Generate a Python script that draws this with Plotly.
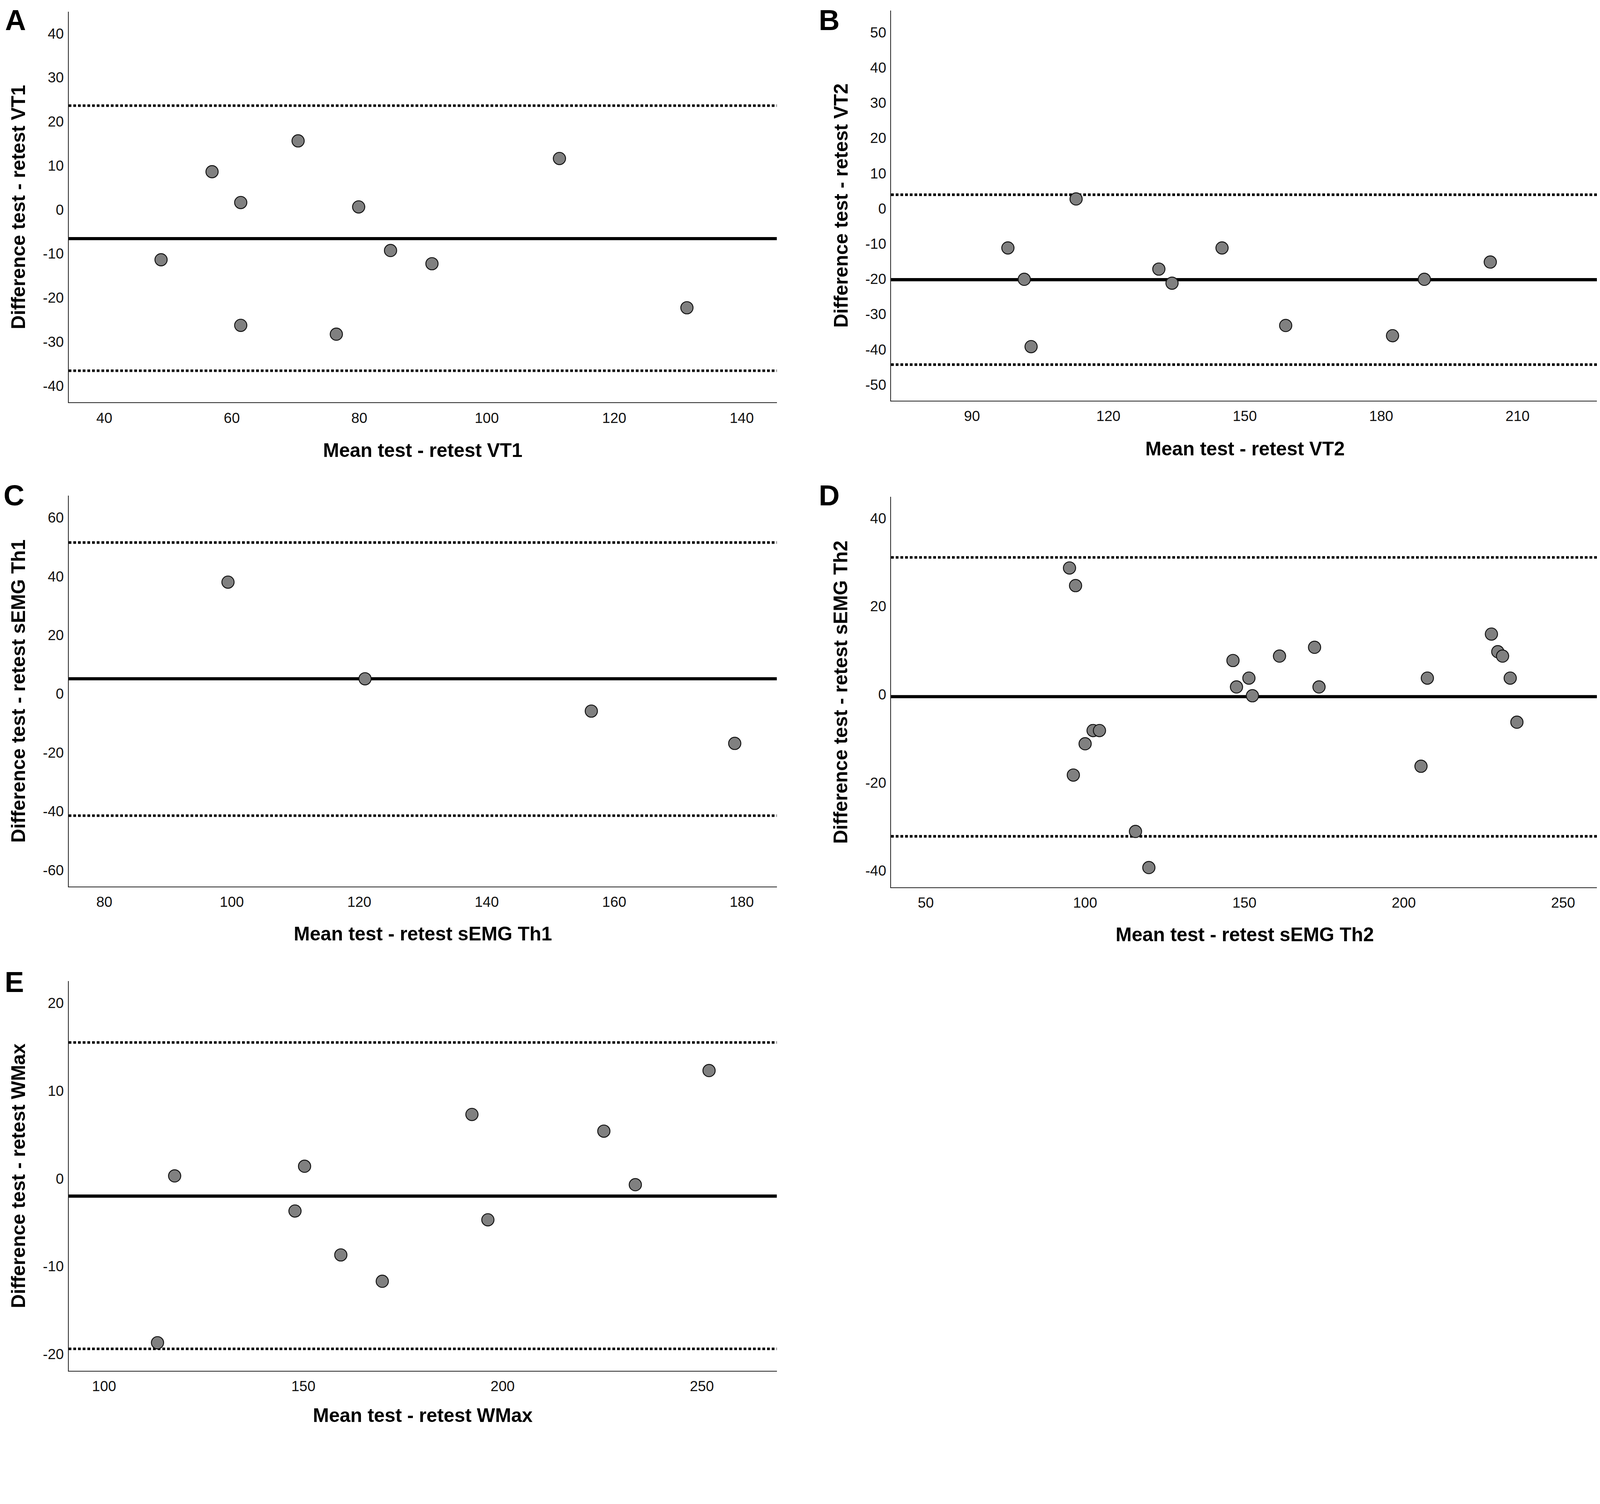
import plotly.graph_objects as go

# the page is photographed a bit larger than its css size, so lay out in
# target pixels and convert
K = 1.053
OFF = 8
W = round(4317 / K - OFF)
H = round(3851 / K - OFF)


def fx(px):
    return (px / K - OFF) / W


def fy(py):
    return 1 - (py / K - OFF) / H


def s(v):
    return v / K


# panel A - VT1
a_mean = [48.9, 56.9, 61.4, 61.4, 70.4, 76.4, 79.9, 84.9, 91.4, 111.4, 131.4]
a_diff = [-11.4, 8.6, 1.6, -26.3, 15.6, -28.3, 0.6, -9.3, -12.3, 11.6, -22.3]
a_bias = -6.6
a_loa = [23.6, -36.6]
a_xticks = [40, 60, 80, 100, 120, 140]
a_yticks = [-40, -30, -20, -10, 0, 10, 20, 30, 40]

# panel B - VT2
b_mean = [97.9, 101.5, 103.0, 112.9, 131.1, 134.0, 145.0, 159.0, 182.5, 189.5, 204.0]
b_diff = [-11.2, -20.1, -39.2, 2.7, -17.2, -21.2, -11.2, -33.2, -36.1, -20.1, -15.2]
b_bias = -20.2
b_loa = [3.9, -44.3]
b_xticks = [90, 120, 150, 180, 210]
b_yticks = [-50, -40, -30, -20, -10, 0, 10, 20, 30, 40, 50]

# panel C - sEMG Th1
c_mean = [99.4, 120.9, 156.4, 178.9]
c_diff = [38.0, 5.1, -5.9, -16.9]
c_bias = 5.1
c_loa = [51.5, -41.5]
c_xticks = [80, 100, 120, 140, 160, 180]
c_yticks = [-60, -40, -20, 0, 20, 40, 60]

# panel D - sEMG Th2
d_mean = [95.1, 97.0, 96.3, 100.0, 102.5, 104.5, 115.8, 120.0, 146.4, 147.5, 151.4,
          152.5, 161.0, 172.0, 173.4, 205.4, 207.4, 227.5, 229.5, 231.0, 233.4, 235.5]
d_diff = [28.7, 24.7, -18.3, -11.2, -8.2, -8.2, -31.1, -39.3, 7.7, 1.7, 3.7,
          -0.3, 8.7, 10.7, 1.7, -16.3, 3.7, 13.7, 9.7, 8.7, 3.7, -6.3]
d_bias = -0.5
d_loa = [31.1, -32.2]
d_xticks = [50, 100, 150, 200, 250]
d_yticks = [-40, -20, 0, 20, 40]

# panel E - WMax
e_mean = [113.4, 117.7, 147.9, 150.3, 159.4, 169.8, 192.3, 196.3, 225.4, 233.3, 251.8]
e_diff = [-18.7, 0.3, -3.7, 1.4, -8.7, -11.7, 7.3, -4.7, 5.4, -0.7, 12.3]
e_bias = -2.0
e_loa = [15.5, -19.4]
e_xticks = [100, 150, 200, 250]
e_yticks = [-20, -10, 0, 10, 20]

labels = ["A", "B", "C", "D", "E"]
names = ["VT1", "VT2", "sEMG Th1", "sEMG Th2", "WMax"]

panels = [(a_mean, a_diff, a_bias, a_loa, a_xticks, a_yticks),
          (b_mean, b_diff, b_bias, b_loa, b_xticks, b_yticks),
          (c_mean, c_diff, c_bias, c_loa, c_xticks, c_yticks),
          (d_mean, d_diff, d_bias, d_loa, d_xticks, d_yticks),
          (e_mean, e_diff, e_bias, e_loa, e_xticks, e_yticks)]

# plot areas in target pixels (left, right, top, bottom)
boxes = [(185, 2094, 32, 1085), (2402, 4309, 28, 1080),
         (185, 2094, 1336, 2390), (2402, 4309, 1339, 2392),
         (185, 2094, 2645, 3696)]
xranges = [[34.4, 145.5], [72.2, 227.8], [74.4, 185.5], [39.1, 261.1], [91.1, 268.8]]
yranges = [[-43.8, 44.9], [-54.5, 56.2], [-65.6, 67.5], [-43.75, 44.9], [-21.9, 22.5]]
letter_pos = [(42, 54), (2235, 54), (38, 1336), (2235, 1336), (38, 2648)]
xtitle_shift = [129, 129, 127, 127, 120]

arial = "Liberation Sans, Arial, sans-serif"
tick_font = dict(family=arial, size=s(39), color="#111")
title_font = dict(family=arial, size=s(52), color="black", weight="bold")

fig = go.Figure()
for i, (xs, ys, bias, loa, xt, yt) in enumerate(panels):
    n = "" if i == 0 else str(i + 1)
    xa, ya = "x" + n, "y" + n
    l, r, t, b = boxes[i]
    fig.add_trace(go.Scatter(
        x=xs, y=ys, mode="markers", xaxis=xa, yaxis=ya, showlegend=False,
        marker=dict(size=s(33), color="#808080", line=dict(color="#111", width=s(2.5))),
        cliponaxis=False))
    # mean difference
    fig.add_shape(type="line", xref=xa + " domain", yref=ya, x0=0, x1=1, y0=bias, y1=bias,
                  line=dict(color="black", width=s(8.5)), layer="below")
    # limits of agreement
    for v in loa:
        fig.add_shape(type="line", xref=xa + " domain", yref=ya, x0=0, x1=1, y0=v, y1=v,
                      line=dict(color="black", width=s(7), dash="7px,5px"), layer="below")
    fig.update_layout(**{
        "xaxis" + n: dict(domain=[fx(l), fx(r)], range=xranges[i], anchor=ya,
                          tickvals=xt, ticktext=[str(v) for v in xt],
                          showline=True, linecolor="#222", linewidth=s(2), ticks="",
                          showgrid=False, zeroline=False, tickfont=tick_font,
                          ticklabelstandoff=6),
        "yaxis" + n: dict(domain=[fy(b), fy(t)], range=yranges[i], anchor=xa,
                          tickvals=yt, ticktext=[str(v) for v in yt],
                          showline=True, linecolor="#222", linewidth=s(2), ticks="",
                          showgrid=False, zeroline=False, tickfont=tick_font,
                          ticklabelstandoff=3),
    })
    fig.add_annotation(text="Mean test - retest " + names[i], xref=xa + " domain",
                       yref=ya + " domain", x=0.5, y=0, yanchor="middle",
                       yshift=-s(xtitle_shift[i]), showarrow=False, font=title_font)
    fig.add_annotation(text="Difference test - retest " + names[i], xref=xa + " domain",
                       yref=ya + " domain", x=0, y=0.5, xanchor="center", xshift=-s(136),
                       textangle=-90, showarrow=False, font=title_font)
    lx, ly = letter_pos[i]
    fig.add_annotation(text=labels[i], xref="paper", yref="paper", x=fx(lx), y=fy(ly),
                       xanchor="center", yanchor="middle", showarrow=False,
                       font=dict(family=arial, size=s(78), color="black", weight="bold"))

fig.update_layout(width=W, height=H, margin=dict(l=0, r=0, t=0, b=0),
                  plot_bgcolor="white", paper_bgcolor="white")

fig.write_html("out.html")
